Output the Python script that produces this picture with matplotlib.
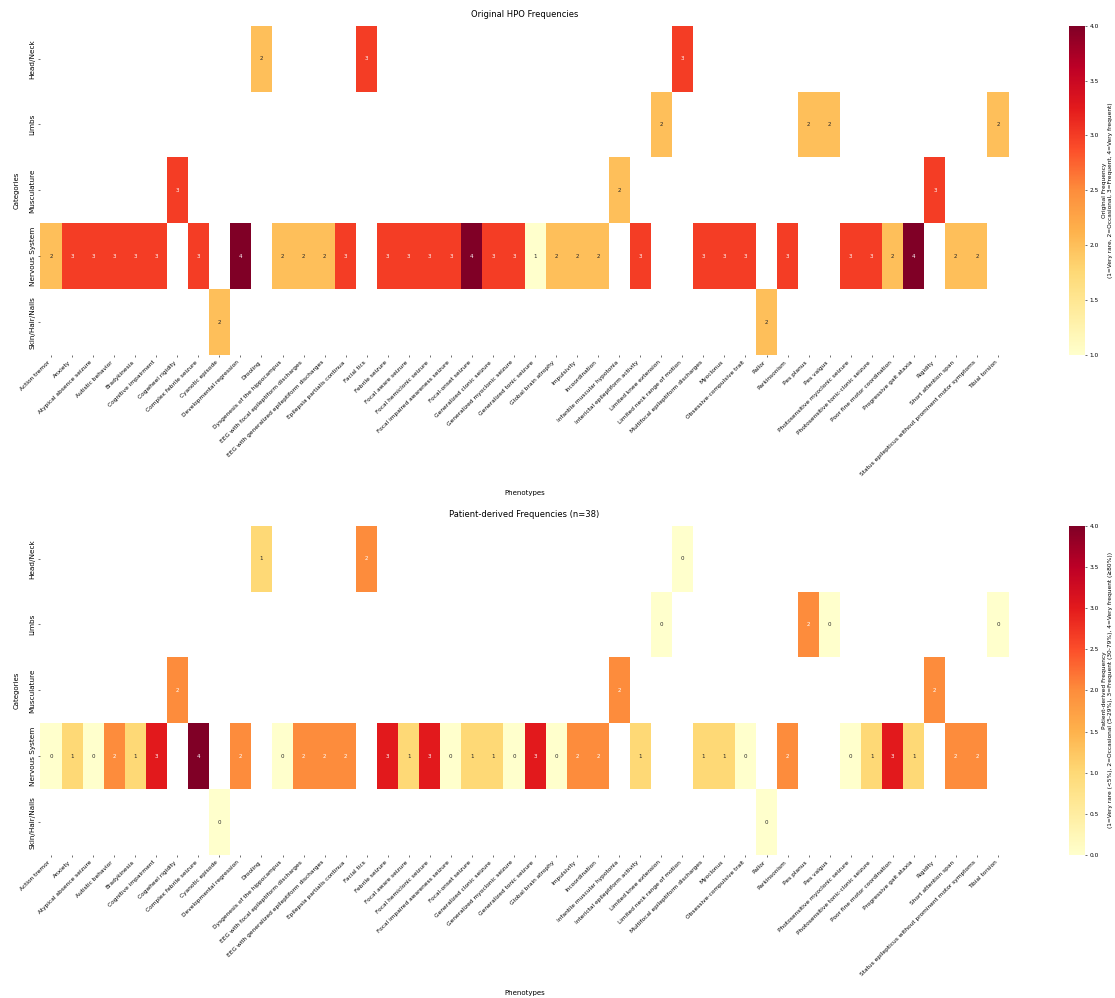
import numpy as np
import pandas as pd
import seaborn as sns
from matplotlib import pyplot as plt
plt.switch_backend('agg')

categories = ["Head/Neck", "Limbs", "Musculature", "Nervous System", "Skin/Hair/Nails"]
phenotypes = ["Action tremor", "Anxiety", "Atypical absence seizure", "Autistic behavior",
              "Bradykinesia", "Cognitive impairment", "Cogwheel rigidity", "Complex febrile seizure",
              "Cyanotic episode", "Developmental regression", "Drooling",
              "Dysgenesis of the hippocampus", "EEG with focal epileptiform discharges",
              "EEG with generalized epileptiform discharges", "Epilepsia partialis continua",
              "Facial tics", "Febrile seizure", "Focal aware seizure", "Focal hemiclonic seizure",
              "Focal impaired awareness seizure", "Focal-onset seizure", "Generalized clonic seizure",
              "Generalized myoclonic seizure", "Generalized tonic seizure", "Global brain atrophy",
              "Impulsivity", "Incoordination", "Infantile muscular hypotonia",
              "Interictal epileptiform activity", "Limited knee extension",
              "Limited neck range of motion", "Multifocal epileptiform discharges", "Myoclonus",
              "Obsessive-compulsive trait", "Pallor", "Parkinsonism", "Pes planus", "Pes valgus",
              "Photosensitive myoclonic seizure", "Photosensitive tonic-clonic seizure",
              "Poor fine motor coordination", "Progressive gait ataxia", "Rigidity",
              "Short attention span", "Status epilepticus without prominent motor symptoms",
              "Tibial torsion"]

# (phenotype, original frequency, patient-derived frequency) per category
head_neck = [("Drooling", 2, 1), ("Facial tics", 3, 2), ("Limited neck range of motion", 3, 0)]
limbs = [("Limited knee extension", 2, 0), ("Pes planus", 2, 2), ("Pes valgus", 2, 0),
         ("Tibial torsion", 2, 0)]
musculature = [("Cogwheel rigidity", 3, 2), ("Infantile muscular hypotonia", 2, 2), ("Rigidity", 3, 2)]
skin = [("Cyanotic episode", 2, 0), ("Pallor", 2, 0)]
nervous = [("Action tremor", 2, 0), ("Anxiety", 3, 1), ("Atypical absence seizure", 3, 0),
           ("Autistic behavior", 3, 2), ("Bradykinesia", 3, 1), ("Cognitive impairment", 3, 3),
           ("Complex febrile seizure", 3, 4), ("Developmental regression", 4, 2),
           ("Dysgenesis of the hippocampus", 2, 0), ("EEG with focal epileptiform discharges", 2, 2),
           ("EEG with generalized epileptiform discharges", 2, 2), ("Epilepsia partialis continua", 3, 2),
           ("Febrile seizure", 3, 3), ("Focal aware seizure", 3, 1), ("Focal hemiclonic seizure", 3, 3),
           ("Focal impaired awareness seizure", 3, 0), ("Focal-onset seizure", 4, 1),
           ("Generalized clonic seizure", 3, 1), ("Generalized myoclonic seizure", 3, 0),
           ("Generalized tonic seizure", 1, 3), ("Global brain atrophy", 2, 0), ("Impulsivity", 2, 2),
           ("Incoordination", 2, 2), ("Interictal epileptiform activity", 3, 1),
           ("Multifocal epileptiform discharges", 3, 1), ("Myoclonus", 3, 1),
           ("Obsessive-compulsive trait", 3, 0), ("Parkinsonism", 3, 2),
           ("Photosensitive myoclonic seizure", 3, 0), ("Photosensitive tonic-clonic seizure", 3, 1),
           ("Poor fine motor coordination", 2, 3), ("Progressive gait ataxia", 4, 1),
           ("Short attention span", 2, 2), ("Status epilepticus without prominent motor symptoms", 2, 2)]

groups = {"Head/Neck": head_neck, "Limbs": limbs, "Musculature": musculature,
          "Nervous System": nervous, "Skin/Hair/Nails": skin}

orig = pd.DataFrame(np.nan, index=categories, columns=phenotypes)
pat = pd.DataFrame(np.nan, index=categories, columns=phenotypes)
for c, rows in groups.items():
    for p, o, q in rows:
        orig.loc[c, p] = o
        pat.loc[c, p] = q

fig = plt.figure(figsize=(22.3, 19.96), dpi=50)
W, H = 1115, 998

def place(x0, y0, x1, y1):
    return fig.add_axes([x0 / W, 1 - y1 / H, (x1 - x0) / W, (y1 - y0) / H])

ax1 = place(40.5, 25.7, 1008.5, 355)
cax1 = place(1069, 25.7, 1085, 355)
ax2 = place(40.5, 525.7, 1008.5, 855)
cax2 = place(1069, 525.7, 1085, 855)

panels = [
    (ax1, cax1, orig, 1, 4, "Original HPO Frequencies",
     "Original Frequency\n(1=Very rare, 2=Occasional, 3=Frequent, 4=Very frequent)"),
    (ax2, cax2, pat, 0, 4, "Patient-derived Frequencies (n=38)",
     "Patient-derived Frequency\n(1=Very rare (<5%), 2=Occasional (5-29%), 3=Frequent (30-79%), 4=Very frequent (\u226580%))"),
]
for ax, cax, df, lo, hi, title, clabel in panels:
    sns.heatmap(df, ax=ax, cbar_ax=cax, cmap="YlOrRd", vmin=lo, vmax=hi,
                annot=True, fmt=".0f", annot_kws={"size": 8},
                linewidths=0,
                cbar_kws={"label": clabel})
    ax.set_title(title, fontsize=12, pad=13)
    ax.set_xlabel("Phenotypes", fontsize=10, labelpad=18)
    ax.set_ylabel("Categories", fontsize=10, labelpad=14)
    ax.set_xticks(np.arange(len(phenotypes)) + 0.5)
    ax.set_xticklabels(phenotypes, rotation=45, ha="right", fontsize=8.5)
    ax.set_yticks(np.arange(len(categories)) + 0.5)
    ax.set_yticklabels(categories, rotation=90, va="center", fontsize=10.5)
    cax.tick_params(labelsize=8.5)
    cax.yaxis.label.set_size(8.5)

plt.savefig("out.png", dpi=50)
